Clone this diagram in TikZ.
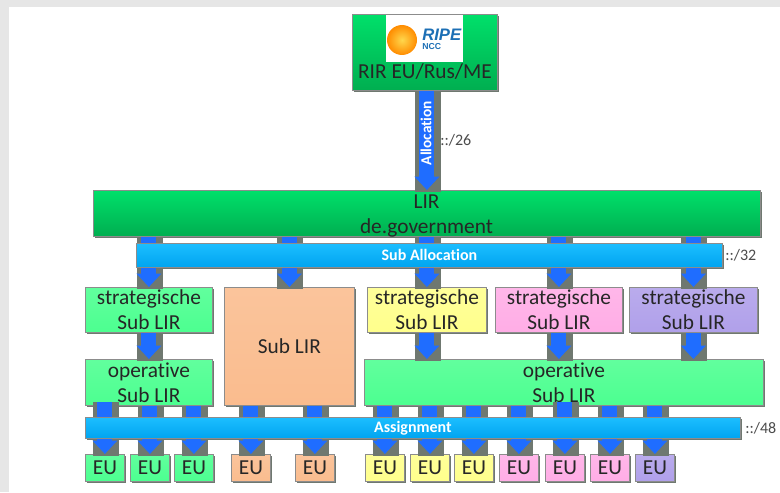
\documentclass[tikz,border=0pt]{standalone}
\usepackage{fontspec}
\setmainfont[Ligatures=NoCommon]{Carlito}
\newfontfamily\logofont{Liberation Sans}
\usetikzlibrary{arrows.meta,shadows}
\definecolor{pagegrey}{HTML}{E6E6E6}
\definecolor{columngrey}{HTML}{6F7870}
\definecolor{flowblue}{HTML}{1F6DFF}
\definecolor{ripeblue}{HTML}{1C6FB5}
\definecolor{rirtop}{HTML}{00E06A}
\definecolor{rirbot}{HTML}{00AE50}
\definecolor{bartop}{HTML}{1CBEFF}
\definecolor{barbot}{HTML}{00A4F0}
\definecolor{sublirgreen}{HTML}{4CFF90}
\definecolor{subliryellow}{HTML}{FFFF8C}
\definecolor{sublirpink}{HTML}{FFADE6}
\definecolor{sublirpurple}{HTML}{B0A0EA}
\definecolor{sublirorange}{HTML}{FABC8E}
\tikzset{
  box/.style={draw=black!45,line width=0.6pt,inner sep=0pt,anchor=north west,align=center,
    font=\fontsize{16}{19}\selectfont,text=black!85,
    drop shadow={shadow xshift=1.5pt,shadow yshift=-1.5pt,fill=columngrey,opacity=1}},
  rirbox/.style={box,top color=rirtop,bottom color=rirbot},
  lightbox/.style={box,top color=#1!88!white,bottom color=#1},
  barbox/.style={box,top color=bartop,bottom color=barbot,text=white,font=\fontsize{12}{14}\selectfont\bfseries},
  eubox/.style={lightbox=#1,minimum width={39*.75pt},minimum height={27*.75pt}},
  boxtext/.style={inner sep=0pt,align=center,font=\fontsize{16}{19}\selectfont,text=black!85},
  netlabel/.style={inner sep=0pt,text=black!70,font=\fontsize{12}{14}\selectfont},
  column/.style={columngrey,line width=19.5pt},
  flowline/.style={flowblue,line width=11.25pt},
  flowhead/.style={flowline,-{Triangle[length=10pt,width=18pt]}}
}
% stub from a box down to a bar, in the column of #4
\newcommand{\flowstub}[4][0pt]{
  \coordinate (col) at (#4.north);
  \coordinate (greycol) at ([xshift=.75pt]#4.north);
  \draw[column,shorten <=#1] (greycol |- #2.south) -- (greycol |- #3.north);
  \draw[flowline,shorten <=#1] (col |- #2.south) -- (col |- #3.north);
}
% block arrow from a box or bar down to a box, in the column of #3
\newcommand{\flowtip}[3]{
  \coordinate (col) at (#3.north);
  \coordinate (greycol) at ([xshift=.75pt]#3.north);
  \draw[column,shorten >=-1.5pt] (greycol |- #1.south) -- (greycol |- #2.north);
  \draw[flowhead] (col |- #1.south) -- (col |- #2.north);
}
\begin{document}
\begin{tikzpicture}[x=.75pt,y=-.75pt]
  \useasboundingbox (0,0) rectangle (780,492);
  \fill[pagegrey] (0,0) rectangle (780,492);
  \fill[white] (9,7) rectangle (780,492);

  % top level
  \node[rirbox,minimum width={145*.75pt},minimum height={76*.75pt}] (rir) at (352,14) {};
  \node[fill=white,inner sep=0pt,minimum width={77*.75pt},minimum height={47*.75pt},anchor=north west] (logo) at (386,15) {};
  \shade[inner color=yellow!55!orange!70!white,outer color=orange!90!yellow] (402,40) circle (15);
  \node[inner sep=0pt,anchor=west,text=ripeblue,font=\logofont\fontsize{12.5}{13}\selectfont\bfseries\itshape] (ripe) at (422,35) {RIPE};
  \node[inner sep=0pt,anchor=west,text=ripeblue,font=\logofont\fontsize{6.5}{7}\selectfont\bfseries] (ncc) at (422,47) {NCC};
  \node[boxtext] (rirtext) at (425,72) {RIR EU/Rus/ME};
  \node[rirbox,minimum width={667*.75pt},minimum height={46*.75pt}] (lir) at (93,190) {};

  % bars
  \node[barbox,minimum width={586*.75pt},minimum height={24*.75pt}] (suballoc) at (136,243) {Sub Allocation};
  \node[barbox,minimum width={655*.75pt},minimum height={21*.75pt}] (assign) at (85,417) {Assignment};

  % sub LIRs
  \node[lightbox=sublirgreen,minimum width={127*.75pt},minimum height={45*.75pt}] (sl1) at (85,287) {strategische\\Sub LIR};
  \node[lightbox=sublirorange,minimum width={130*.75pt},minimum height={118*.75pt}] (sl2) at (224,287) {Sub LIR};
  \node[lightbox=subliryellow,minimum width={119*.75pt},minimum height={45*.75pt}] (sl3) at (367,287) {strategische\\Sub LIR};
  \node[lightbox=sublirpink,minimum width={127*.75pt},minimum height={45*.75pt}] (sl4) at (495,287) {strategische\\Sub LIR};
  \node[lightbox=sublirpurple,minimum width={128*.75pt},minimum height={45*.75pt}] (sl5) at (629,287) {strategische\\Sub LIR};
  \node[lightbox=sublirgreen,minimum width={127*.75pt},minimum height={46*.75pt}] (op1) at (85,359) {operative\\Sub LIR};
  \node[lightbox=sublirgreen,minimum width={399*.75pt},minimum height={46*.75pt}] (op2) at (364,359) {operative\\Sub LIR};

  % end users
  \foreach \n/\xpos/\col in {1/85/sublirgreen,2/130/sublirgreen,3/174/sublirgreen,4/231/sublirorange,5/295/sublirorange,
      6/365/subliryellow,7/410/subliryellow,8/454/subliryellow,9/499/sublirpink,10/545/sublirpink,11/590/sublirpink,12/635/sublirpurple}
    \node[eubox=\col] (eu\n) at (\xpos,454) {EU};

  % net sizes
  \node[netlabel,anchor=west] (net26) at (440,140) {::/26};
  \node[netlabel,anchor=west] (net32) at (725,255) {::/32};
  \node[netlabel,anchor=west] (net48) at (745,428) {::/48};

  % flows
  \flowtip{rir}{lir}{lir}
  \node[inner sep=0pt,rotate=90,text=white,font=\fontsize{11.5}{13}\selectfont\bfseries] (alloc) at (426,133) {Allocation};
  \node[boxtext] (lirtext) at (426.5,216) {LIR\\de.government};

  \foreach \t in {sl1,sl2,sl3,sl4,sl5} {
    \flowstub{lir}{suballoc}{\t}
    \flowtip{suballoc}{\t}{\t}
  }
  \flowtip{sl1}{op1}{sl1}
  \flowtip{sl3}{op2}{sl3}
  \flowtip{sl4}{op2}{sl4}
  \flowtip{sl5}{op2}{sl5}

  \foreach \n in {1,2,3} {
    \flowstub{op1}{assign}{eu\n}
    \flowtip{assign}{eu\n}{eu\n}
  }
  \foreach \n in {4,5} {
    \flowstub{sl2}{assign}{eu\n}
    \flowtip{assign}{eu\n}{eu\n}
  }
  \foreach \n in {6,...,12} {
    \flowstub{op2}{assign}{eu\n}
    \flowtip{assign}{eu\n}{eu\n}
  }
  % these two reach up into the box
  \flowstub[-2.5pt]{op1}{assign}{eu1}
  \flowstub[-2.5pt]{op2}{assign}{eu10}
\end{tikzpicture}
\end{document}
